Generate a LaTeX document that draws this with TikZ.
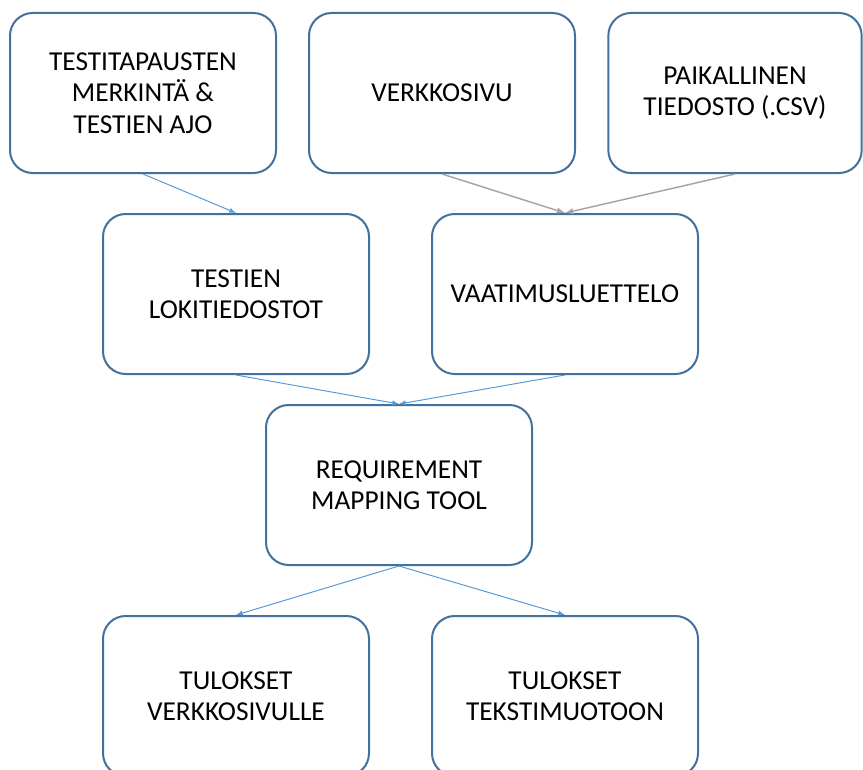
\documentclass[tikz,border=0pt]{standalone}
\usepackage{fontspec}
\setmainfont{Carlito}
\usepackage{tikz}
\definecolor{boxline}{HTML}{41719C}
\definecolor{arrblue}{HTML}{5B9BD5}
\definecolor{arrgray}{HTML}{A5A5A5}
\tikzstyle{block}=[rectangle,draw=boxline,line width=1.5pt,rounded corners=17pt,fill=white,minimum width=199.5pt,minimum height=120pt,align=center,font=\fontsize{20.5}{23.5}\selectfont,inner sep=0pt]
\tikzstyle{flow}=[draw=arrblue,line width=0.75pt,-latex]
\tikzstyle{flowgray}=[draw=arrgray,line width=1.1pt,-latex]

\begin{document}
\begin{tikzpicture}[x=0.75pt,y=-0.75pt]
                \useasboundingbox (0,0) rectangle (863,770);
                \clip (0,0) rectangle (863,770);
                \node[block] (marking) at (143,93) {TESTITAPAUSTEN\\MERKINTÄ \&\\TESTIEN AJO};
                \node[block] (web) at (442,93) {VERKKOSIVU};
                \node[block,minimum width=190pt] (csv) at (735,93) {PAIKALLINEN\\TIEDOSTO (.CSV)};
                \node[block] (logs) at (236,294) {TESTIEN\\LOKITIEDOSTOT};
                \node[block] (reqs) at (565,294) {VAATIMUSLUETTELO};
                \node[block] (tool) at (399,485) {REQUIREMENT\\MAPPING TOOL};
                \node[block] (resweb) at (236,696) {TULOKSET\\VERKKOSIVULLE};
                \node[block] (restext) at (565,696) {TULOKSET\\TEKSTIMUOTOON};
                \path[flow] (marking.south) -- (logs.north);
                \path[flowgray] (web.south) -- (reqs.north);
                \path[flowgray] (csv.south) -- (reqs.north);
                \path[flow] (logs.south) -- (tool.north);
                \path[flow] (reqs.south) -- (tool.north);
                \path[flow] (tool.south) -- (resweb.north);
                \path[flow] (tool.south) -- (restext.north);
            \end{tikzpicture}
\end{document}
